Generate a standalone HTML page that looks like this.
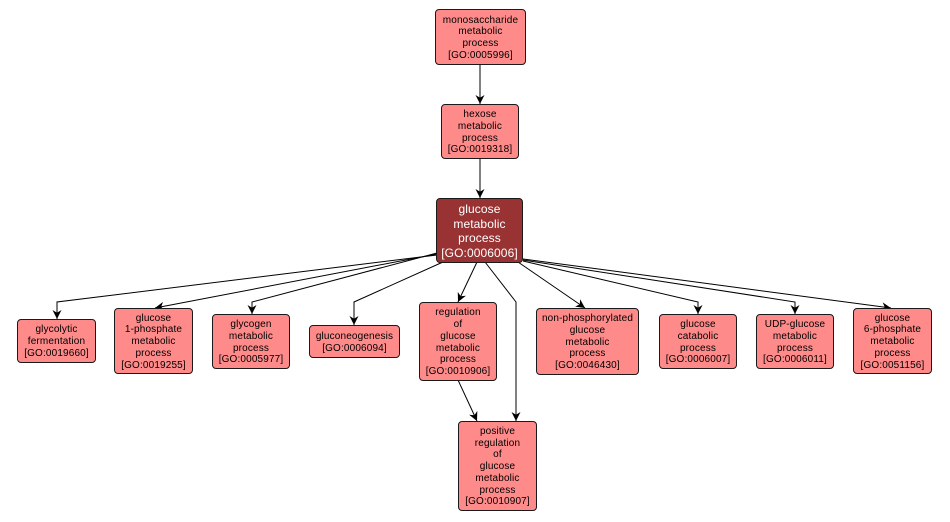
<!DOCTYPE html>
<html>
<head>
<meta charset="utf-8">
<style>
  html, body { margin: 0; padding: 0; background: #ffffff; }
  body { width: 950px; height: 522px; position: relative; overflow: hidden; }
  svg { position: absolute; left: 0; top: 0; }
  .n {
    position: absolute;
    box-sizing: border-box;
    background: #ff8a8a;
    border: 1px solid #1a1a1a;
    border-radius: 4px;
    display: flex;
    align-items: center;
    justify-content: center;
    text-align: center;
    font-family: "Liberation Sans", Arial, sans-serif;
    font-size: 10px;
    line-height: 11.7px;
    letter-spacing: 0.15px;
    color: #000;
    padding-top: 2px;
  }
  .main {
    background: #993333;
    color: #ffffff;
    font-size: 12px;
    line-height: 14.5px;
    letter-spacing: 0.1px;
    padding-top: 1px;
  }
</style>
</head>
<body>
<svg width="950" height="522" viewBox="0 0 950 522" xmlns="http://www.w3.org/2000/svg">
  <defs>
    <marker id="ah" viewBox="0 0 10 10" refX="10" refY="5" markerWidth="9" markerHeight="9" markerUnits="userSpaceOnUse" orient="auto">
      <path d="M0,0 L10,5 L0,10 L3,5 z" fill="#000"/>
    </marker>
  </defs>
  <g fill="none" stroke="#000" stroke-width="1">
    <polyline points="480,65 480,104" marker-end="url(#ah)"/>
    <polyline points="480,159 480,198" marker-end="url(#ah)"/>
    <polyline points="437,255 57,302 57,319" marker-end="url(#ah)"/>
    <polyline points="437,254 155,308" marker-end="url(#ah)"/>
    <polyline points="437,253 252,302 252,314" marker-end="url(#ah)"/>
    <polyline points="443,262 354,302 354,325" marker-end="url(#ah)"/>
    <polyline points="477,262 458,302" marker-end="url(#ah)"/>
    <polyline points="485,262 516,302 516,421" marker-end="url(#ah)"/>
    <polyline points="458,380 477,421" marker-end="url(#ah)"/>
    <polyline points="518,262 585,308" marker-end="url(#ah)"/>
    <polyline points="523,261 698,302 698,314" marker-end="url(#ah)"/>
    <polyline points="523,260 795,302 795,314" marker-end="url(#ah)"/>
    <polyline points="523,259 891,308" marker-end="url(#ah)"/>
  </g>
</svg>

<div class="n" style="left:435px;top:9px;width:91px;height:56px;">monosaccharide<br>metabolic<br>process<br>[GO:0005996]</div>
<div class="n" style="left:441px;top:104px;width:78px;height:55px;">hexose<br>metabolic<br>process<br>[GO:0019318]</div>
<div class="n main" style="left:436px;top:198px;width:87px;height:65px;">glucose<br>metabolic<br>process<br>[GO:0006006]</div>

<div class="n" style="left:17px;top:319px;width:79px;height:44px;">glycolytic<br>fermentation<br>[GO:0019660]</div>
<div class="n" style="left:114px;top:308px;width:79px;height:66px;">glucose<br>1-phosphate<br>metabolic<br>process<br>[GO:0019255]</div>
<div class="n" style="left:212px;top:314px;width:78px;height:55px;">glycogen<br>metabolic<br>process<br>[GO:0005977]</div>
<div class="n" style="left:309px;top:325px;width:91px;height:33px;">gluconeogenesis<br>[GO:0006094]</div>
<div class="n" style="left:419px;top:302px;width:78px;height:79px;">regulation<br>of<br>glucose<br>metabolic<br>process<br>[GO:0010906]</div>
<div class="n" style="left:536px;top:308px;width:103px;height:67px;">non-phosphorylated<br>glucose<br>metabolic<br>process<br>[GO:0046430]</div>
<div class="n" style="left:659px;top:314px;width:78px;height:55px;">glucose<br>catabolic<br>process<br>[GO:0006007]</div>
<div class="n" style="left:756px;top:314px;width:78px;height:55px;">UDP-glucose<br>metabolic<br>process<br>[GO:0006011]</div>
<div class="n" style="left:853px;top:308px;width:79px;height:66px;">glucose<br>6-phosphate<br>metabolic<br>process<br>[GO:0051156]</div>
<div class="n" style="left:458px;top:421px;width:79px;height:90px;">positive<br>regulation<br>of<br>glucose<br>metabolic<br>process<br>[GO:0010907]</div>
</body>
</html>
